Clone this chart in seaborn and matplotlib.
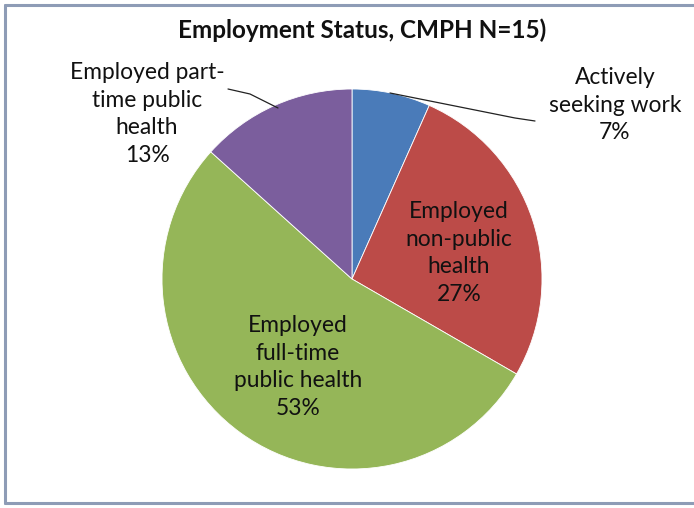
import matplotlib
matplotlib.use("Agg")
import matplotlib.pyplot as plt
import seaborn as sns
from matplotlib.lines import Line2D

sns.set_theme(style="white")
plt.rcParams['font.family'] = ['Lato', 'DejaVu Sans']

# Data
categories = ["Actively\nseeking work", "Employed\nnon-public\nhealth",
              "Employed\nfull-time\npublic health", "Employed part-\ntime public\nhealth"]
counts = [1, 4, 8, 2]
pct_labels = ["7%", "27%", "53%", "13%"]
colors = ["#4A7BB9", "#BC4B48", "#95B658", "#7B5E9D"]
title = "Employment Status, CMPH N=15)"

W, H = 694, 508
fig = plt.figure(figsize=(W / 100, H / 100), dpi=100)

cx, cy, r = 352, 279, 190
ax = fig.add_axes([(cx - r) / W, (H - cy - r) / H, 2 * r / W, 2 * r / H])
ax.pie(counts, colors=colors, startangle=90, counterclock=False,
       wedgeprops=dict(edgecolor="white", linewidth=0.6))
ax.set_xlim(-1, 1)
ax.set_ylim(-1, 1)
ax.set_aspect("equal")
ax.axis("off")

def px(x, y):
    return x / W, 1 - y / H

fig.text(*px(362, 30), title, ha="center", va="center", fontsize=17.5,
         fontweight="bold", color="#111111")

label_pos = [(615, 105), (459, 253), (298, 367), (147, 114)]
for cat, pct, (x, y) in zip(categories, pct_labels, label_pos):
    fig.text(*px(x, y), cat + "\n" + pct, ha="center", va="center",
             fontsize=16.4, color="#111111", linespacing=1.38)

# leader lines
for pts in ([(228, 89), (250, 94), (278, 108)], [(390, 93), (470, 109), (515, 118), (535, 121)]):
    xs = [p[0] / W for p in pts]
    ys = [1 - p[1] / H for p in pts]
    fig.add_artist(Line2D(xs, ys, color="#222222", lw=0.9))

# frame
fc = "#8E9CB6"
fig.add_artist(Line2D([5 / W, 5 / W], [1 - 5 / H, 1 - 503 / H], color=fc, lw=2.2))
fig.add_artist(Line2D([5 / W, 1], [1 - 5 / H, 1 - 5 / H], color=fc, lw=2.2))
fig.add_artist(Line2D([5 / W, 1], [1 - 503 / H, 1 - 503 / H], color=fc, lw=2.2))

fig.savefig("out.png", dpi=100)
